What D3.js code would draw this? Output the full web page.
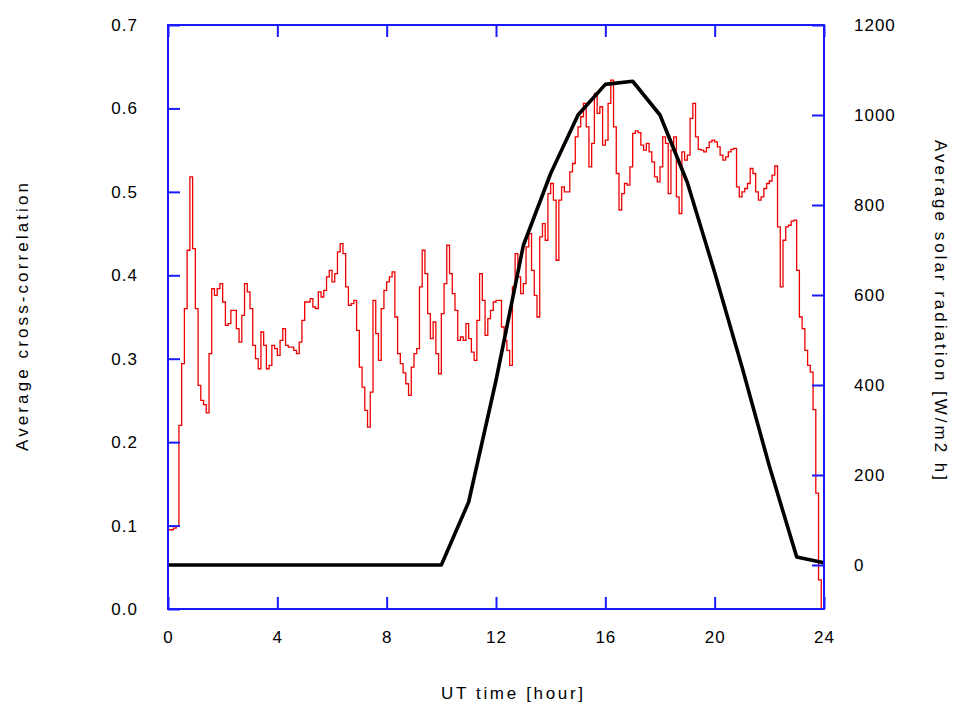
<!DOCTYPE html>
<html><head><meta charset="utf-8">
<script src="https://cdn.jsdelivr.net/npm/d3@7"></script>
<style>body{margin:0;background:#fff}svg{display:block}text{font-family:"Liberation Sans",Arial,sans-serif;fill:#000}</style>
</head><body>
<svg id="c" width="959" height="715"></svg>
<script>
// Red series: average cross-correlation, sampled every 0.1 h (step line)
const corrStep = 0.1;
const corrValues = [
0.095,0.095,0.097,0.099,0.22,0.294,0.36,0.43,0.518,0.432,
0.36,0.268,0.25,0.245,0.235,0.306,0.384,0.376,0.384,0.39,
0.368,0.34,0.342,0.358,0.358,0.336,0.32,0.352,0.39,0.38,
0.36,0.316,0.30,0.288,0.332,0.316,0.288,0.292,0.316,0.312,
0.304,0.322,0.336,0.316,0.314,0.314,0.31,0.306,0.32,0.346,
0.368,0.368,0.372,0.362,0.36,0.38,0.374,0.382,0.398,0.406,
0.392,0.402,0.428,0.438,0.426,0.386,0.364,0.366,0.37,0.334,
0.29,0.266,0.238,0.218,0.26,0.37,0.33,0.298,0.36,0.382,
0.392,0.398,0.404,0.35,0.306,0.294,0.283,0.27,0.256,0.29,
0.306,0.312,0.386,0.43,0.402,0.354,0.324,0.344,0.306,0.282,
0.354,0.39,0.436,0.402,0.378,0.358,0.322,0.326,0.322,0.342,
0.324,0.308,0.298,0.346,0.402,0.37,0.328,0.348,0.358,0.368,
0.37,0.37,0.338,0.322,0.31,0.292,0.386,0.426,0.398,0.378,
0.39,0.434,0.45,0.406,0.376,0.35,0.446,0.462,0.442,0.498,
0.51,0.49,0.418,0.49,0.506,0.5,0.5,0.524,0.534,0.566,
0.578,0.59,0.606,0.578,0.53,0.558,0.618,0.594,0.602,0.556,
0.562,0.606,0.634,0.578,0.522,0.478,0.498,0.51,0.508,0.53,
0.57,0.573,0.571,0.556,0.55,0.558,0.548,0.536,0.518,0.512,
0.53,0.566,0.558,0.498,0.55,0.566,0.494,0.474,0.548,0.538,
0.544,0.588,0.606,0.566,0.551,0.55,0.548,0.553,0.56,0.562,
0.56,0.554,0.544,0.538,0.542,0.548,0.551,0.552,0.506,0.494,
0.5,0.504,0.51,0.528,0.522,0.5,0.49,0.494,0.504,0.51,
0.513,0.52,0.531,0.458,0.386,0.442,0.458,0.46,0.465,0.466,
0.406,0.35,0.336,0.31,0.292,0.284,0.239,0.139,0.035,0.0
];
// Black series: average solar radiation, hourly
const solarHours = [0,1,2,3,4,5,6,7,8,9,10,11,12,13,14,15,16,17,18,19,20,21,22,23,24];
const solarValues = [0,0,0,0,0,0,0,0,0,0,0,140,410,710,870,1000,1068,1075,1000,850,650,440,220,18,5];
// Axis ticks
const xTicks = [0,4,8,12,16,20,24];
const leftTicks = [0,0.1,0.2,0.3,0.4,0.5,0.6,0.7];
const rightTicks = [0,200,400,600,800,1000,1200];
const xDomain = [0,24];
const leftDomain = [0,0.7];
const rightDomain = [-97.8,1200];

const svg = d3.select("#c");
const L = 168, R = 824, T = 25, B = 609;
const x = d3.scaleLinear().domain(xDomain).range([L,R]);
const yL = d3.scaleLinear().domain(leftDomain).range([B,T]);
const yR = d3.scaleLinear().domain(rightDomain).range([B,T]);
const axisColor = "#1a1aff";
const tk = 12;

const corrData = corrValues.map((v,i)=>({h:i*corrStep, v}));
corrData.push({h:24, v:corrValues[corrValues.length-1]});
const solarData = solarHours.map((h,i)=>({h, v:solarValues[i]}));

svg.append("path").datum(corrData)
  .attr("fill","none").attr("stroke","#ee0000").attr("stroke-width",1.3)
  .attr("d", d3.line().x(d=>x(d.h)).y(d=>yL(d.v)).curve(d3.curveStepAfter));

svg.append("path").datum(solarData)
  .attr("fill","none").attr("stroke","#000").attr("stroke-width",3.6)
  .attr("stroke-linejoin","round")
  .attr("d", d3.line().x(d=>x(d.h)).y(d=>yR(d.v)));

// Axes (inward ticks)
function styleAxis(g){
  g.select(".domain").remove();
  g.selectAll(".tick line").attr("stroke",axisColor).attr("stroke-width",2);
  g.selectAll(".tick text").attr("font-size",17).attr("fill","#000")
   .style("font-family",'"Liberation Sans",Arial,sans-serif').style("letter-spacing","1px");
}
const gB = svg.append("g").attr("transform",`translate(0,${B})`)
  .call(d3.axisBottom(x).tickValues(xTicks).tickSizeInner(-tk).tickSizeOuter(0).tickPadding(22).tickFormat(d3.format("d")));
styleAxis(gB);
const gT = svg.append("g").attr("transform",`translate(0,${T})`)
  .call(d3.axisTop(x).tickValues(xTicks).tickSizeInner(-tk).tickSizeOuter(0).tickFormat(""));
styleAxis(gT);
const gLft = svg.append("g").attr("transform",`translate(${L},0)`)
  .call(d3.axisLeft(yL).tickValues(leftTicks).tickSizeInner(-tk).tickSizeOuter(0).tickPadding(30).tickFormat(d3.format(".1f")));
styleAxis(gLft);
const gRgt = svg.append("g").attr("transform",`translate(${R},0)`)
  .call(d3.axisRight(yR).tickValues(rightTicks).tickSizeInner(-tk).tickSizeOuter(0).tickPadding(30).tickFormat(d3.format("d")));
styleAxis(gRgt);

// Frame
svg.append("rect").attr("x",L).attr("y",T).attr("width",R-L).attr("height",B-T)
  .attr("fill","none").attr("stroke",axisColor).attr("stroke-width",2);

// Titles
svg.append("text").attr("x",512).attr("y",699).attr("text-anchor","middle")
  .attr("font-size",17).attr("textLength",142).attr("lengthAdjust","spacing").text("UT time [hour]");
svg.append("text").attr("transform","translate(28,317) rotate(-90)").attr("text-anchor","middle")
  .attr("font-size",17).attr("textLength",268).attr("lengthAdjust","spacing").text("Average cross-correlation");
svg.append("text").attr("transform","translate(935,310) rotate(90)").attr("text-anchor","middle")
  .attr("font-size",17).attr("textLength",340).attr("lengthAdjust","spacing").text("Average solar radiation [W/m2 h]");
</script>
</body></html>
